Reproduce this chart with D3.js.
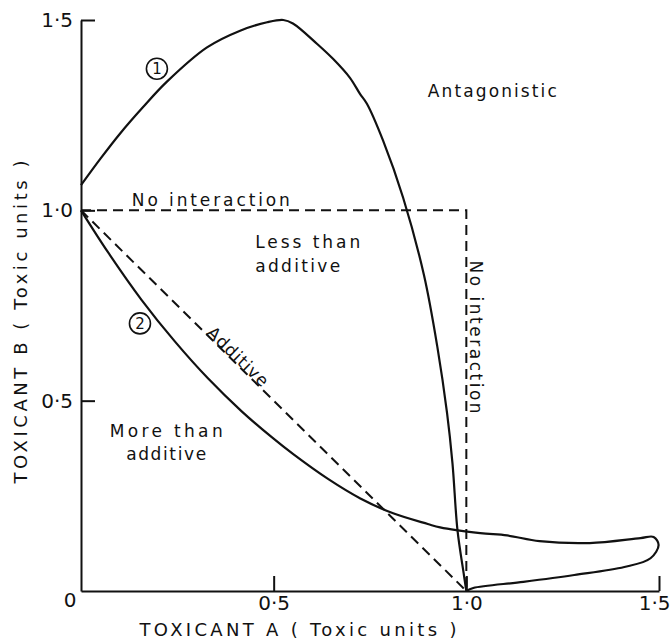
<!DOCTYPE html>
<html><head><meta charset="utf-8">
<script src="https://cdn.jsdelivr.net/npm/d3@7"></script>
<style>body{margin:0;background:#fff}svg{display:block}text{font-family:"DejaVu Sans",sans-serif;fill:#111}</style>
</head><body>
<svg id="chart" width="670" height="639"></svg>
<script>
// ---- data (toxic units) ----
const curve1A = [0, 0.05, 0.1, 0.16, 0.223, 0.327, 0.413, 0.483, 0.525, 0.55, 0.613, 0.654, 0.698, 0.724, 0.742, 0.784, 0.836, 0.89, 0.925, 0.95, 0.964, 0.977, 0.993, 1.0];
const curve1B = [1.066, 1.135, 1.2, 1.27, 1.338, 1.428, 1.472, 1.494, 1.5, 1.491, 1.437, 1.398, 1.348, 1.306, 1.28, 1.183, 1.033, 0.83, 0.64, 0.467, 0.336, 0.16, 0.047, 0];
const curve2A = [0, 0.07, 0.157, 0.244, 0.33, 0.417, 0.495, 0.55, 0.64, 0.725, 0.81, 0.9, 0.932, 1.036, 1.106, 1.19, 1.32, 1.452, 1.486, 1.499, 1.478, 1.41, 1.28, 1.148, 1.018, 1.0];
const curve2B = [1.0, 0.89, 0.765, 0.655, 0.558, 0.472, 0.404, 0.36, 0.295, 0.243, 0.204, 0.176, 0.167, 0.152, 0.146, 0.131, 0.126, 0.139, 0.142, 0.121, 0.086, 0.063, 0.042, 0.024, 0.008, 0];
const noInteractionA = [0, 1, 1];
const noInteractionB = [1, 1, 0];
const additiveA = [0, 1];
const additiveB = [1, 0];
const tickValues = [0.5, 1.0, 1.5];
const tickLabels = ["0·5", "1·0", "1·5"];
const originLabel = "0";
const xTitle = "TOXICANT  A  ( Toxic  units )";
const yTitle = "TOXICANT  B  ( Toxic  units )";

const svg = d3.select("#chart");
const x = d3.scaleLinear().domain([0, 1.5]).range([81, 659]);
const y = d3.scaleLinear().domain([0, 1.5]).range([591, 20]);
const fmt = v => tickLabels[tickValues.indexOf(v)];

const zip = (a, b) => a.map((v, i) => [v, b[i]]);
const line = d3.line().x(d => x(d[0])).y(d => y(d[1]));
const smooth = d3.line().x(d => x(d[0])).y(d => y(d[1])).curve(d3.curveCatmullRom.alpha(0.5));

// axes
const ax = svg.append("g").attr("transform", `translate(0,${y(0)})`)
  .call(d3.axisBottom(x).tickValues(tickValues).tickSize(-15).tickSizeOuter(0).tickPadding(3).tickFormat(fmt));
const ay = svg.append("g").attr("transform", `translate(${x(0)},0)`)
  .call(d3.axisLeft(y).tickValues(tickValues).tickSize(-14).tickSizeOuter(0).tickPadding(8).tickFormat(fmt));
[ax, ay].forEach(g => {
  g.selectAll("path,line").attr("stroke", "#111").attr("stroke-width", 2);
  g.selectAll("text").style("font-size", "20px").attr("font-family", "DejaVu Sans").attr("fill", "#111");
});
ax.selectAll("text").attr("dy", "0.78em");
ax.selectAll(".tick").filter(d => d === 1.5).select("text").attr("text-anchor", "end").attr("dx", 11);
svg.append("text").attr("x", x(0) - 11).attr("y", y(0) + 9).attr("dy", "0.36em")
  .attr("text-anchor", "middle").style("font-size", "20px").text(originLabel);

// reference lines
svg.append("path").datum(zip(noInteractionA, noInteractionB)).attr("d", line)
  .attr("fill", "none").attr("stroke", "#111").attr("stroke-width", 2).attr("stroke-dasharray", "10,6");
svg.append("path").datum(zip(additiveA, additiveB)).attr("d", line)
  .attr("fill", "none").attr("stroke", "#111").attr("stroke-width", 2).attr("stroke-dasharray", "10,6");

// curves
[zip(curve1A, curve1B), zip(curve2A, curve2B)].forEach(d => {
  svg.append("path").datum(d).attr("d", smooth)
    .attr("fill", "none").attr("stroke", "#111").attr("stroke-width", 2.2).attr("stroke-linejoin", "round");
});

// curve markers
[[0.197, 1.372, "1"], [0.153, 0.703, "2"]].forEach(([a, b, t]) => {
  svg.append("circle").attr("cx", x(a)).attr("cy", y(b)).attr("r", 10.5)
    .attr("fill", "#fff").attr("stroke", "#111").attr("stroke-width", 1.6);
  svg.append("text").attr("x", x(a)).attr("y", y(b)).attr("dy", "0.36em")
    .attr("text-anchor", "middle").attr("font-size", 15).text(t);
});

// region labels
function label(txt, a, b, opts = {}) {
  const t = svg.append("text").attr("x", x(a)).attr("y", y(b))
    .attr("font-size", opts.size || 17).attr("text-anchor", opts.anchor || "start").text(txt);
  if (opts.len) t.attr("textLength", opts.len).attr("lengthAdjust", "spacing");
  if (opts.rot) t.attr("transform", `rotate(${opts.rot},${x(a)},${y(b)})`);
  if (opts.dy) t.attr("dy", opts.dy);
  return t;
}
label("Antagonistic", 0.90, 1.298, {len: 129});
label("No interaction", 0.132, 1.012, {len: 158});
label("Less than", 0.452, 0.902, {len: 105});
label("additive", 0.452, 0.839, {len: 85});
label("More than", 0.221, 0.404, {len: 113, anchor: "middle"});
label("additive", 0.221, 0.344, {len: 80, anchor: "middle"});
label("Additive", 0.407, 0.616, {len: 78, anchor: "middle", rot: 44, dy: "0.35em"});
label("No interaction", 1.01, 0.868, {len: 153, rot: 90});

// axis titles
svg.append("text").attr("x", 298).attr("y", 636).attr("text-anchor", "middle")
  .attr("font-size", 18).attr("textLength", 317).attr("lengthAdjust", "spacing").text(xTitle);
svg.append("text").attr("transform", "translate(27,322) rotate(-90)").attr("text-anchor", "middle")
  .attr("font-size", 18).attr("textLength", 323).attr("lengthAdjust", "spacing").text(yTitle);
</script>
</body></html>
